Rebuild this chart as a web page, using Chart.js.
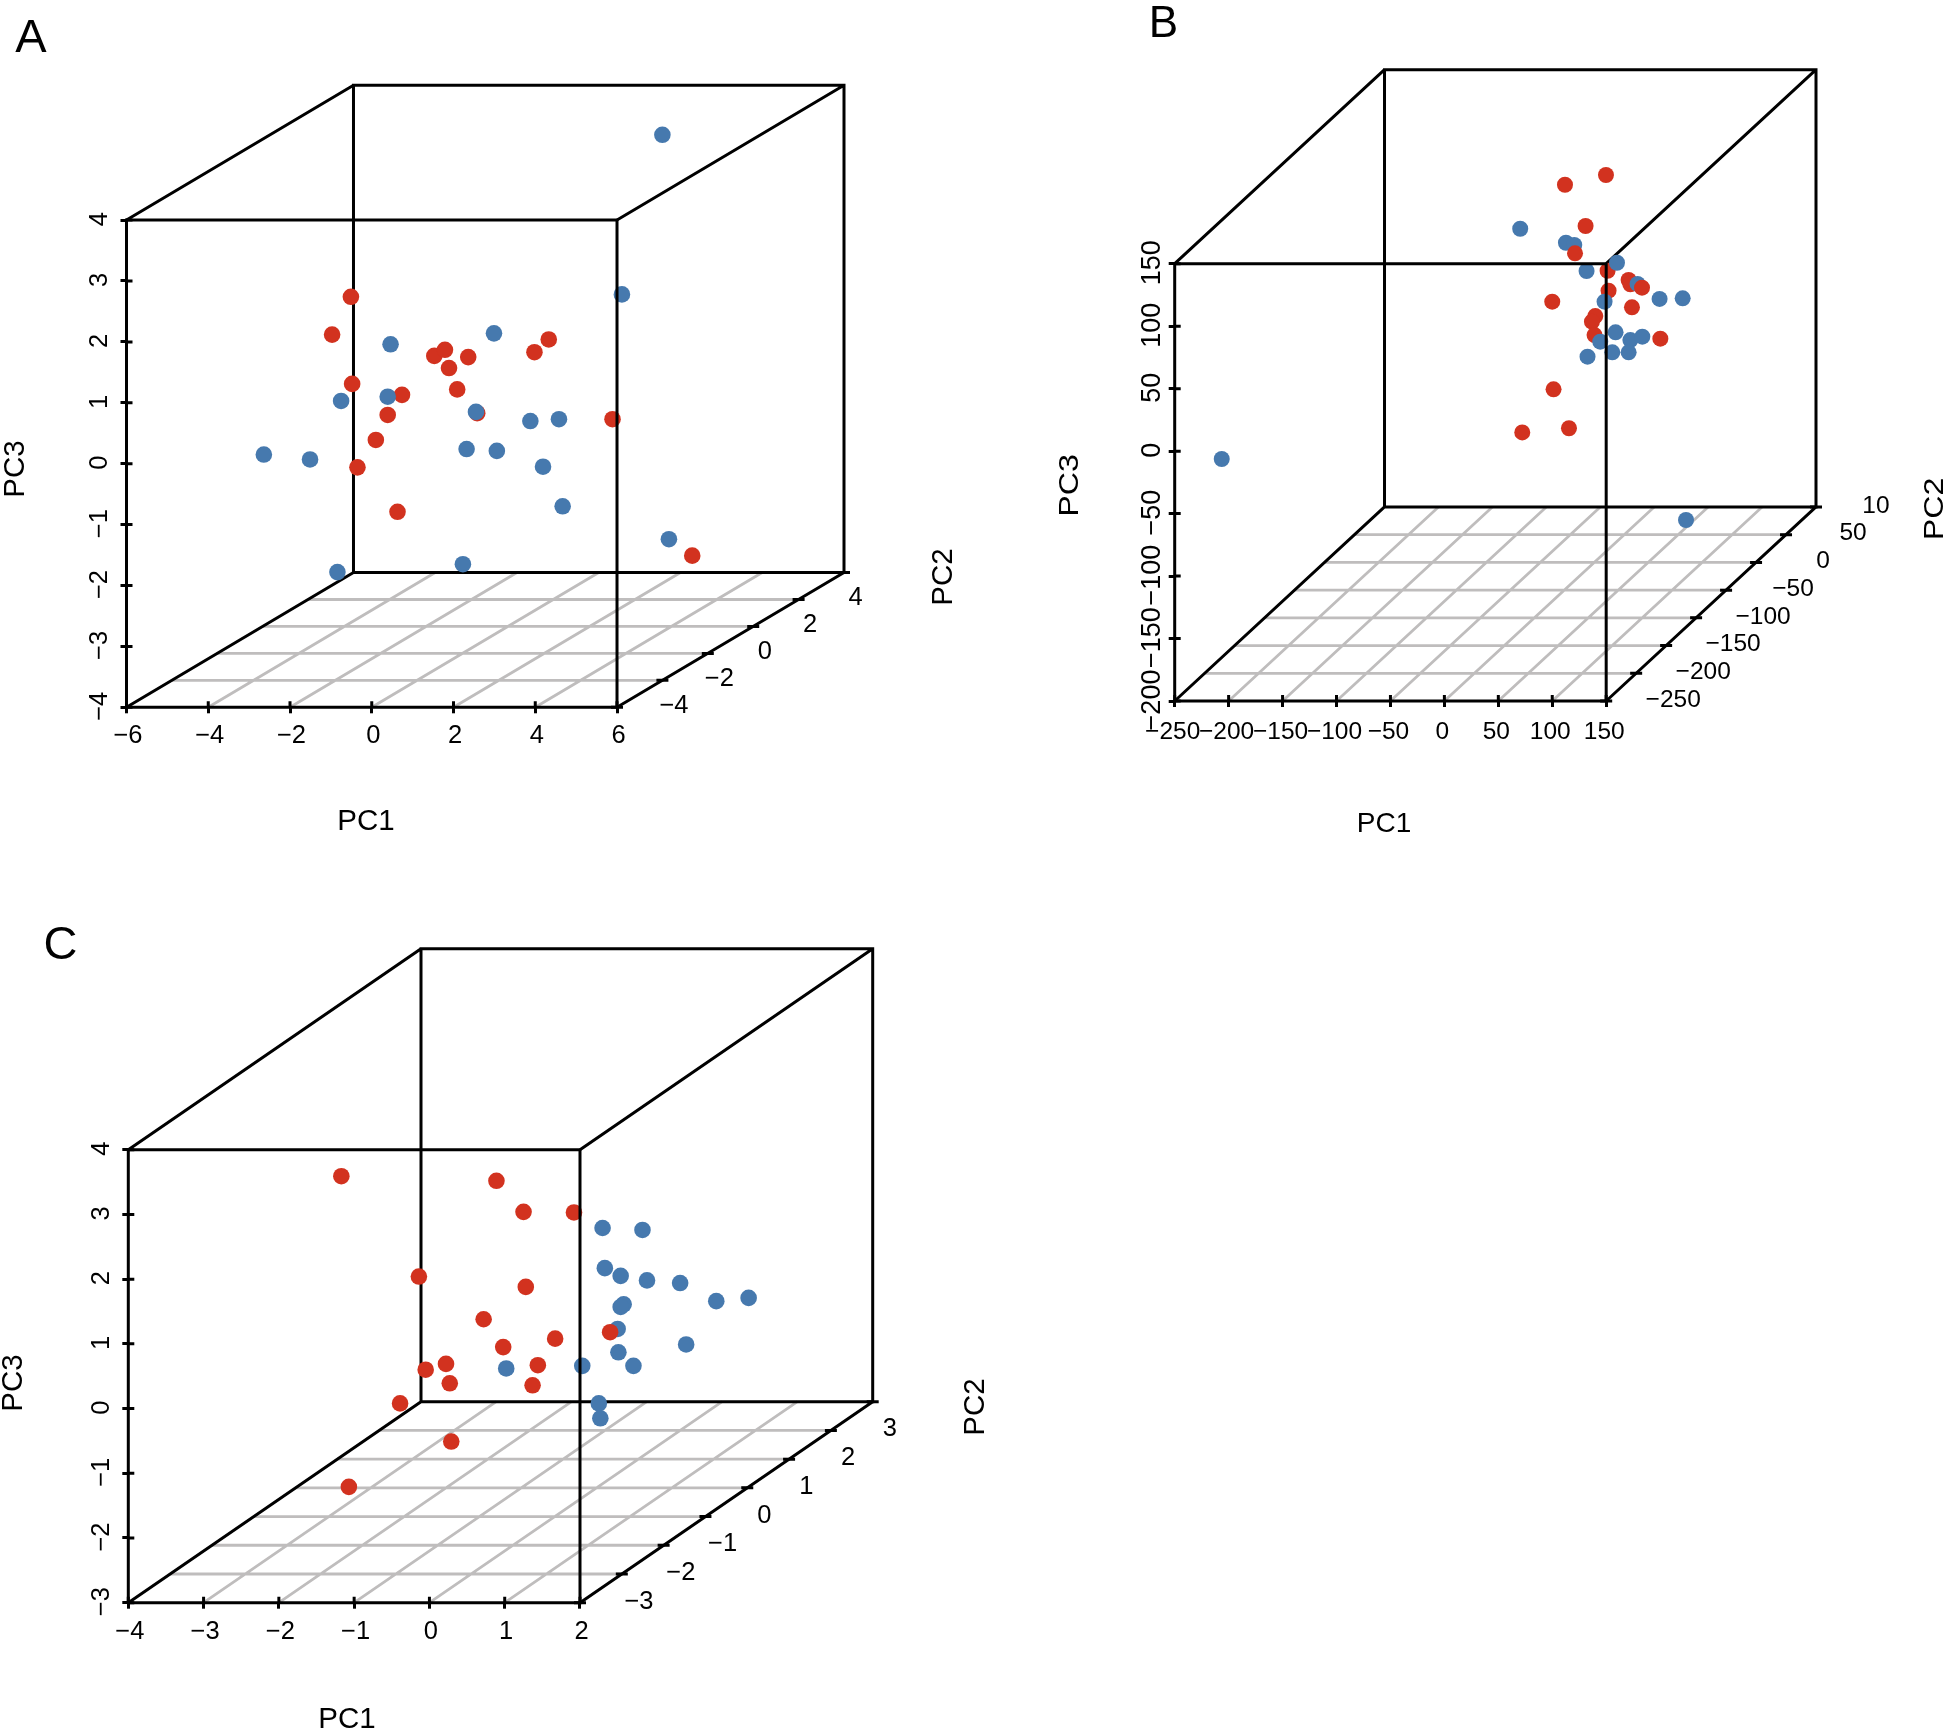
<!DOCTYPE html>
<html>
<head>
<meta charset="utf-8">
<title>PCA 3D scatter</title>
<script src="https://cdn.jsdelivr.net/npm/chart.js@4"></script>
<style>
  html, body { margin: 0; padding: 0; background: #fff; }
  body { position: relative; width: 1952px; height: 1732px; overflow: hidden; }
  canvas { position: absolute; }
</style>
</head>
<body>
<canvas id="panelA" style="left:0;top:0" width="1000" height="880"></canvas>
<canvas id="panelB" style="left:1040px;top:0" width="912" height="880"></canvas>
<canvas id="panelC" style="left:0;top:880px" width="1000" height="852"></canvas>
<script>
let xTicksA = [-6, -4, -2, 0, 2, 4, 6]
let yTicksA = [-4, -3, -2, -1, 0, 1, 2, 3, 4]
let depthTicksA = [-4, -2, 0, 2, 4]
let depthLabelsA = ["−4", "−2", "0", "2", "4"]
let redXA = [-0.51, -0.97, -0.48, 0.74, 0.39, 1.53, 1.79, 1.89, 2.36, 2.09, 2.58, 4.33, 3.98, 5.89, 0.10, -0.35, 0.63, 7.84]
let redYA = [2.74, 2.12, 1.31, 1.13, 0.80, 1.77, 1.87, 1.57, 1.75, 1.22, 0.83, 2.04, 1.83, 0.73, 0.39, -0.06, -0.79, -1.51]
let blueXA = [0.46, -0.75, 0.39, 2.55, 2.99, 7.11, 6.12, 3.88, 4.58, 3.06, 4.19, -2.64, -1.51, 2.32, -0.84, 2.23, 4.67, 7.27]
let blueYA = [1.96, 1.03, 1.10, 0.85, 2.14, 5.40, 2.78, 0.70, 0.73, 0.21, -0.05, 0.15, 0.07, 0.24, -1.78, -1.65, -0.70, -1.24]

let xTicksB = [-250, -200, -150, -100, -50, 0, 50, 100, 150]
let yTicksB = [-200, -150, -100, -50, 0, 50, 100, 150]
let depthTicksB = [-250, -200, -150, -100, -50, 0, 50, 100]
let depthLabelsB = ["−250", "−200", "−150", "−100", "−50", "0", "50", "10"]
let redXB = [149.8, 111.8, 130.9, 151.3, 170.8, 172.4, 152.2, 100, 173.9, 139.9, 136.8, 139.2, 200.2, 101.2, 72.2, 115.5]
let redYB = [221, 213.2, 180.2, 144.4, 137, 133.5, 128.4, 119.6, 115.1, 108.1, 103.6, 92.9, 90, 49.5, 15, 18.3]
let blueXB = [70.3, 112.7, 120.4, 160, 131.8, 179.1, 148.5, 199.5, 220.9, 158.7, 172.4, 183.5, 144.5, 155.7, 170.8, 132.7, -206.4, 224]
let blueYB = [178, 166.8, 165, 150.8, 144.2, 133.8, 119.6, 121.8, 122.3, 95.1, 88.9, 91.6, 87.6, 79.1, 79.1, 75.6, -6.3, -55.1]
// these reds sit on top of the blue ones
let redTopXB = [121.1, 183.2]
let redTopYB = [158.3, 130.8]

let xTicksC = [-4, -3, -2, -1, 0, 1, 2]
let yTicksC = [-3, -2, -1, 0, 1, 2, 3, 4]
let depthTicksC = [-3, -2, -1, 0, 1, 2, 3]
let depthLabelsC = ["−3", "−2", "−1", "0", "1", "2", "3"]
let redXC = [-1.17, 0.89, 1.25, 1.92, -0.14, 1.28, 0.72, 0.98, 1.67, 1.44, 1.37, 0.22, -0.05, 0.27, -0.39, 0.29, -1.07]
let redYC = [3.59, 3.52, 3.04, 3.03, 2.04, 1.88, 1.38, 0.95, 1.08, 0.67, 0.36, 0.69, 0.60, 0.39, 0.08, -0.51, -1.21]
let blueXC = [2.30, 2.83, 2.33, 2.54, 2.89, 3.33, 3.81, 4.24, 2.58, 2.54, 2.50, 3.41, 2.51, 2.71, 2.03, 1.02, 2.25, 2.27]
let blueYC = [2.79, 2.76, 2.17, 2.05, 1.98, 1.94, 1.66, 1.71, 1.61, 1.57, 1.23, 0.99, 0.87, 0.66, 0.66, 0.62, 0.08, -0.15]
let redTopXC = [2.40]
let redTopYC = [1.18]

const RED = "#D2321F"
const BLUE = "#4679AE"
const GREY = "#BFBDBD"
const INK = "#000"
const GAP = { x: NaN, y: NaN }
const INK_WIDTH = 3
const GREY_WIDTH = 2.8

Chart.defaults.font.family = "'Liberation Sans', Arial, sans-serif"

function toPoints(xs, ys) {
    return xs.map((x, i) => ({ x: x, y: ys[i] }))
}

function makePanel(p) {
    let xLo = p.xTicks[0]
    let xHi = p.xTicks[p.xTicks.length - 1]
    let yLo = p.yTicks[0]
    let yHi = p.yTicks[p.yTicks.length - 1]
    let dx = p.depthX
    let dy = p.depthY

    // 0 at the front corner of the floor, 1 at the back
    let depthAt = v => (v - p.depthTicks[0]) / (p.depthMax - p.depthTicks[0])

    let gridLines = []
    p.xTicks.slice(1, -1).forEach(v => {
        gridLines.push({ x: v, y: yLo }, { x: v + dx, y: yLo + dy }, GAP)
    })
    p.depthTicks.slice(1).forEach(v => {
        let f = depthAt(v)
        if (f < 1) gridLines.push({ x: xLo + dx * f, y: yLo + dy * f }, { x: xHi + dx * f, y: yLo + dy * f }, GAP)
    })

    let backLines = [
        { x: xLo + dx, y: yLo + dy }, { x: xHi + dx, y: yLo + dy }, { x: xHi + dx, y: yHi + dy }, { x: xLo + dx, y: yHi + dy }, { x: xLo + dx, y: yLo + dy }, GAP,
        { x: xLo, y: yLo }, { x: xLo + dx, y: yLo + dy }, GAP,
        { x: xHi, y: yLo }, { x: xHi + dx, y: yLo + dy }, GAP,
        { x: xLo, y: yHi }, { x: xLo + dx, y: yHi + dy }, GAP,
        { x: xHi, y: yHi }, { x: xHi + dx, y: yHi + dy }
    ]

    let frontLines = [
        { x: xLo, y: yLo }, { x: xHi, y: yLo }, { x: xHi, y: yHi }, { x: xLo, y: yHi }, { x: xLo, y: yLo }
    ]

    function lineSet(data, color, order) {
        return {
            data: data, showLine: true, borderColor: color, borderWidth: color === GREY ? GREY_WIDTH : INK_WIDTH,
            pointRadius: 0, pointHoverRadius: 0, spanGaps: false, tension: 0, clip: false, order: order,
            borderJoinStyle: "miter"
        }
    }

    function dotSet(data, color, order) {
        return {
            data: data, showLine: false, backgroundColor: color, borderWidth: 0,
            pointRadius: p.dot, pointHoverRadius: p.dot, clip: false, order: order
        }
    }

    let datasets = [
        lineSet(gridLines, GREY, 6),
        lineSet(backLines, INK, 5),
        dotSet(p.red, RED, 4),
        dotSet(p.blue, BLUE, 3),
        dotSet(p.redTop, RED, 2),
        lineSet(frontLines, INK, 1)
    ]

    // PC2 axis, the inner half of the ticks, and the free-standing titles
    let panelText = {
        id: "panelText",
        afterDraw(chart) {
            let ctx = chart.ctx
            let sx = chart.scales.x
            let sy = chart.scales.y
            let base = sy.getPixelForValue(yLo)
            ctx.save()
            ctx.strokeStyle = INK
            ctx.lineWidth = INK_WIDTH
            ctx.beginPath()
            p.xTicks.forEach(v => {
                let px = sx.getPixelForValue(v)
                ctx.moveTo(px, base)
                ctx.lineTo(px, base - p.tick)
            })
            p.yTicks.forEach(v => {
                let py = sy.getPixelForValue(v)
                ctx.moveTo(sx.left, py)
                ctx.lineTo(sx.left + p.tick, py)
            })
            p.depthTicks.concat([p.depthMax]).forEach(v => {
                let f = depthAt(v)
                let px = sx.getPixelForValue(xHi + dx * f)
                let py = sy.getPixelForValue(yLo + dy * f)
                ctx.moveTo(px - p.tick, py)
                ctx.lineTo(px + p.tick, py)
            })
            ctx.stroke()

            ctx.fillStyle = INK
            ctx.textAlign = "center"
            ctx.textBaseline = "middle"
            ctx.font = p.tickSize + "px 'Liberation Sans'"
            p.depthTicks.forEach((v, i) => {
                let f = depthAt(v)
                let px = sx.getPixelForValue(xHi + dx * f) + p.depthLabelX
                let py = sy.getPixelForValue(yLo + dy * f) + p.depthLabelY
                // the top label of B is cut short in the source
                if (p.depthLabels[i] === "10") px -= 7
                ctx.fillText(p.depthLabels[i], px, py)
            })

            ctx.textBaseline = "alphabetic"
            ctx.font = p.titleSize + "px 'Liberation Sans'"
            ctx.fillText("PC1", p.pc1[0] - p.left, p.pc1[1] - p.top)
            ;[["PC3", p.pc3], ["PC2", p.pc2]].forEach(t => {
                ctx.save()
                ctx.translate(t[1][0] - p.left, t[1][1] - p.top)
                ctx.rotate(-Math.PI / 2)
                ctx.scale(p.titleStretch, 1)
                ctx.fillText(t[0], 0, 0)
                ctx.restore()
            })
            ctx.font = p.letterSize + "px 'Liberation Sans'"
            ctx.fillText(p.letter, p.letterAt[0] - p.left, p.letterAt[1] - p.top)
            ctx.restore()
        }
    }

    let tickLabel = v => String(v).replace("-", "−")

    return new Chart(document.getElementById(p.canvas).getContext("2d"), {
        type: "scatter",
        data: { datasets: datasets },
        plugins: [panelText],
        options: {
            responsive: false,
            animation: false,
            events: [],
            layout: { padding: p.padding },
            plugins: { legend: { display: false }, tooltip: { enabled: false }, title: { display: false } },
            scales: {
                x: {
                    type: "linear", position: "bottom", min: xLo, max: xHi + dx,
                    border: { display: false },
                    grid: { drawOnChartArea: false, drawTicks: true, tickLength: p.tick, color: INK, lineWidth: INK_WIDTH },
                    ticks: { color: INK, font: { size: p.tickSize }, padding: p.xPad, labelOffset: p.xShift, autoSkip: false, maxRotation: 0, callback: tickLabel },
                    afterBuildTicks: axis => { axis.ticks = p.xTicks.map(v => ({ value: v })) },
                    afterFit: axis => { axis.height = 70 }
                },
                y: {
                    type: "linear", position: "left", min: yLo, max: yHi + dy,
                    border: { display: false },
                    grid: { drawOnChartArea: false, drawTicks: true, tickLength: p.tick, color: INK, lineWidth: INK_WIDTH },
                    ticks: { color: INK, font: { size: p.yTickSize }, padding: p.yPad, labelOffset: -1, autoSkip: false, minRotation: 90, maxRotation: 90, crossAlign: "center", callback: tickLabel },
                    afterBuildTicks: axis => { axis.ticks = p.yTicks.map(v => ({ value: v })) },
                    afterFit: axis => { axis.width = 100 }
                }
            }
        }
    })
}

document.addEventListener("DOMContentLoaded", function () {
    makePanel({
        canvas: "panelA", left: 0, top: 0, letter: "A", letterAt: [31, 52.3], letterSize: 47,
        xTicks: xTicksA, yTicks: yTicksA, depthTicks: depthTicksA, depthLabels: depthLabelsA, depthMax: 6,
        depthX: 5.553, depthY: 2.213, dot: 8.3, tick: 6, tickSize: 25.5, yTickSize: 25.5, titleSize: 29.5, titleStretch: 1, xPad: 7.5, yPad: 6, xShift: 1.5,
        depthLabelX: 57, depthLabelY: -1.5,
        padding: { left: 26.5, top: 85.3, right: 156, bottom: 102.7 },
        pc1: [366, 829.5], pc3: [24.3, 469], pc2: [951.5, 577],
        red: toPoints(redXA, redYA), blue: toPoints(blueXA, blueYA), redTop: []
    })

    makePanel({
        canvas: "panelB", left: 1040, top: 0, letter: "B", letterAt: [1163.3, 36.7], letterSize: 44,
        xTicks: xTicksB, yTicks: yTicksB, depthTicks: depthTicksB, depthLabels: depthLabelsB, depthMax: 100,
        depthX: 194.5, depthY: 155.3, dot: 8, tick: 6, tickSize: 24.5, yTickSize: 27, titleSize: 28, titleStretch: 1.15, xPad: 10.5, yPad: -14, xShift: -2,
        depthLabelX: 67, depthLabelY: -1,
        padding: { left: 34.7, top: 69.7, right: 136, bottom: 109 },
        pc1: [1384, 832], pc3: [1078, 485.5], pc2: [1942.5, 509],
        red: toPoints(redXB, redYB), blue: toPoints(blueXB, blueYB), redTop: toPoints(redTopXB, redTopYB)
    })

    makePanel({
        canvas: "panelC", left: 0, top: 880, letter: "C", letterAt: [60.5, 959], letterSize: 47,
        xTicks: xTicksC, yTicks: yTicksC, depthTicks: depthTicksC, depthLabels: depthLabelsC, depthMax: 4,
        depthX: 3.888, depthY: 3.106, dot: 8.3, tick: 6, tickSize: 25.5, yTickSize: 25.5, titleSize: 29.5, titleStretch: 1, xPad: 8, yPad: 6, xShift: 1.5,
        depthLabelX: 59, depthLabelY: -1,
        padding: { left: 28.3, top: 68.7, right: 127.3, bottom: 59.3 },
        pc1: [347, 1728], pc3: [21.7, 1383], pc2: [984.2, 1407],
        red: toPoints(redXC, redYC), blue: toPoints(blueXC, blueYC), redTop: toPoints(redTopXC, redTopYC)
    })
})
</script>
</body>
</html>
